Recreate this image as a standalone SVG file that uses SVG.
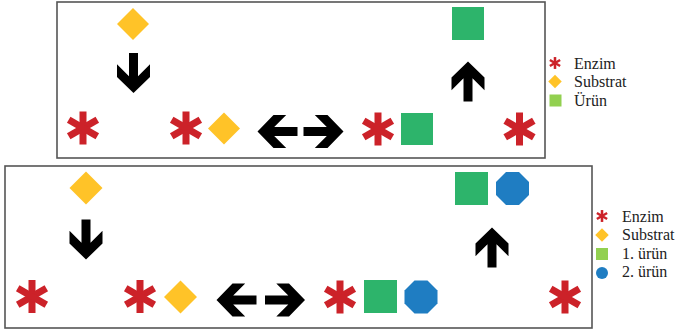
<svg xmlns="http://www.w3.org/2000/svg" width="677" height="332" viewBox="0 0 677 332">
<style>
.box{fill:#fff;stroke:#555;stroke-width:1.6}
.ast{fill:#CC2229}
.dia{fill:#FFC328}
.sq{fill:#2DB46B}
.oct{fill:#1F7DC2}
.arr{fill:#000}
.lg{font-family:"Liberation Serif","Times New Roman",serif;font-size:16px;fill:#222}
</style>
<defs>
<g id="asterisk">
<rect x="-3.5" y="-16.5" width="7" height="33"/>
<rect x="-3.5" y="-16.5" width="7" height="33" transform="rotate(60)"/>
<rect x="-3.5" y="-16.5" width="7" height="33" transform="rotate(120)"/>
</g>
<path id="arrowDown" d="M-4.5,-20 L4.5,-20 L4.5,3.3 L16.5,-8.7 L16.5,4 L0,20 L-16.5,4 L-16.5,-8.7 L-4.5,3.3 Z"/>
<polygon id="diamond" points="0,-16 16,0 0,16 -16,0"/>
<polygon id="octagon" points="-6.5,-16.5 6.5,-16.5 16.5,-6.5 16.5,6.5 6.5,16.5 -6.5,16.5 -16.5,6.5 -16.5,-6.5"/>
</defs>
<g id="panel1">
<rect class="box" x="57" y="2" width="488" height="156"/>
</g>
<g id="panel2">
<rect class="box" x="5" y="166" width="587" height="162"/>
</g>
<g id="connectors">
<use href="#arrowDown" class="arr" transform="translate(133.5,73)"/>
<use href="#arrowDown" class="arr" transform="translate(468,81.5) rotate(180)"/>
<use href="#arrowDown" class="arr" transform="translate(277.5,131.5) rotate(90)"/>
<use href="#arrowDown" class="arr" transform="translate(323.5,131.5) rotate(-90)"/>
<use href="#arrowDown" class="arr" transform="translate(86,239.5)"/>
<use href="#arrowDown" class="arr" transform="translate(492,247.5) rotate(180)"/>
<use href="#arrowDown" class="arr" transform="translate(236.5,300) rotate(90)"/>
<use href="#arrowDown" class="arr" transform="translate(285,300) rotate(-90)"/>
</g>
<g id="top-substrate"><use href="#diamond" class="dia" transform="translate(133,24)"/></g>
<g id="top-product"><rect class="sq" x="452" y="7" width="32" height="33"/></g>
<g id="top-enzyme-1"><use href="#asterisk" class="ast" transform="translate(83,128)"/></g>
<g id="top-complex-1"><use href="#asterisk" class="ast" transform="translate(186,128)"/><use href="#diamond" class="dia" transform="translate(224,128.5)"/></g>
<g id="top-complex-2"><use href="#asterisk" class="ast" transform="translate(378,129)"/><rect class="sq" x="401" y="113" width="32" height="32"/></g>
<g id="top-enzyme-2"><use href="#asterisk" class="ast" transform="translate(519.5,129)"/></g>
<g id="top-legend">
<use href="#asterisk" class="ast" transform="translate(555,63) scale(0.36)"/>
<text class="lg" x="574" y="69">Enzim</text>
<use href="#diamond" class="dia" transform="translate(555,81.5) scale(0.42)"/>
<text class="lg" x="574" y="87">Substrat</text>
<rect x="549.5" y="94.5" width="12" height="12" fill="#92D050"/>
<text class="lg" x="574" y="105.5">Ürün</text>
</g>
<g id="bot-substrate"><use href="#diamond" class="dia" transform="translate(86,188) scale(1.03)"/></g>
<g id="bot-products"><rect class="sq" x="455" y="172" width="33" height="33"/><use href="#octagon" class="oct" transform="translate(512.5,188.5)"/></g>
<g id="bot-enzyme-1"><use href="#asterisk" class="ast" transform="translate(32,296.5)"/></g>
<g id="bot-complex-1"><use href="#asterisk" class="ast" transform="translate(140,296.5)"/><use href="#diamond" class="dia" transform="translate(180.5,297) scale(1.03)"/></g>
<g id="bot-complex-2"><use href="#asterisk" class="ast" transform="translate(340,297)"/><rect class="sq" x="364" y="280" width="33" height="33"/><use href="#octagon" class="oct" transform="translate(421,297)"/></g>
<g id="bot-enzyme-2"><use href="#asterisk" class="ast" transform="translate(565,297)"/></g>
<g id="bot-legend">
<use href="#asterisk" class="ast" transform="translate(602,216) scale(0.36)"/>
<text class="lg" x="622" y="221.5">Enzim</text>
<use href="#diamond" class="dia" transform="translate(602,235) scale(0.42)"/>
<text class="lg" x="622" y="240">Substrat</text>
<rect x="596" y="248" width="12" height="12" fill="#92D050"/>
<text class="lg" x="622" y="258.5">1. ürün</text>
<circle cx="602" cy="273" r="6" fill="#1F7DC2"/>
<text class="lg" x="622" y="277">2. ürün</text>
</g>
</svg>
